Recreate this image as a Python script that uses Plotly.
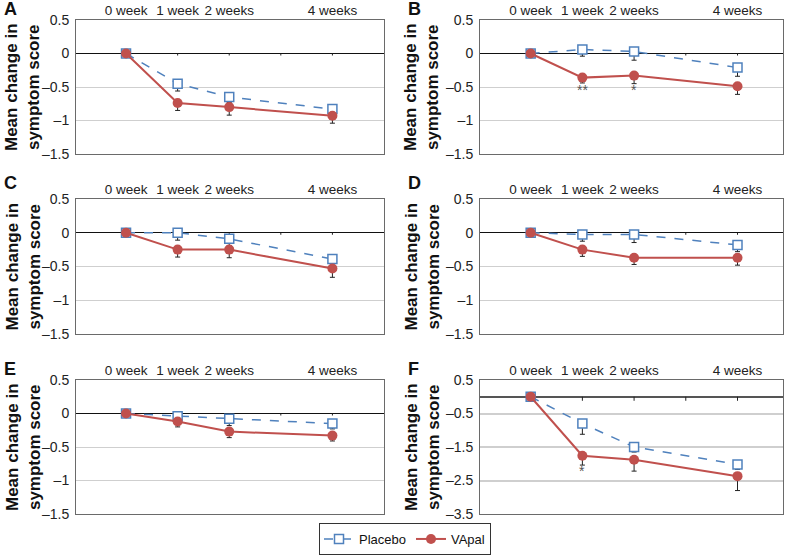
import plotly.graph_objects as go

weeks = [0, 1, 2, 4]
week_labels = ["0 week", "1 week", "2 weeks", "4 weeks"]
tick_weeks = [0, 1, 2, 3, 4]

panel_letters = ["A", "B", "C", "D", "E", "F"]

placebo_A = [0, -0.45, -0.65, -0.83]
placebo_A_err = [0, 0.11, 0.08, 0.10]
vapal_A = [0, -0.74, -0.80, -0.93]
vapal_A_err = [0, 0.11, 0.12, 0.11]

placebo_B = [0, 0.06, 0.03, -0.21]
placebo_B_err = [0, 0.10, 0.13, 0.13]
vapal_B = [0, -0.36, -0.33, -0.49]
vapal_B_err = [0, 0.08, 0.12, 0.12]

placebo_C = [0, 0.0, -0.09, -0.39]
placebo_C_err = [0, 0.11, 0.10, 0.10]
vapal_C = [0, -0.25, -0.25, -0.53]
vapal_C_err = [0, 0.11, 0.12, 0.13]

placebo_D = [0, -0.025, -0.025, -0.18]
placebo_D_err = [0, 0.10, 0.12, 0.10]
vapal_D = [0, -0.25, -0.37, -0.37]
vapal_D_err = [0, 0.10, 0.10, 0.11]

placebo_E = [0, -0.04, -0.08, -0.15]
placebo_E_err = [0, 0.05, 0.10, 0.08]
vapal_E = [0, -0.12, -0.27, -0.33]
vapal_E_err = [0, 0.08, 0.09, 0.08]

placebo_F = [0, -0.80, -1.50, -2.02]
placebo_F_err = [0, 0.32, 0.15, 0.15]
vapal_F = [0, -1.76, -1.88, -2.37]
vapal_F_err = [0, 0.28, 0.34, 0.43]

yticks_std = [0.5, 0, -0.5, -1, -1.5]
yticklabels_std = ["0.5", "0", "\u20130.5", "\u20131", "\u20131.5"]
yticks_F = [0.5, -0.5, -1.5, -2.5, -3.5]
yticklabels_F = ["0.5", "\u20130.5", "\u20131.5", "\u20132.5", "\u20133.5"]

# significance marks: (panel index, week, y, text)
sig_marks = [(1, 1, -0.55, "**"), (1, 2, -0.55, "*"), (5, 1, -2.22, "*")]

placebo_all = [placebo_A, placebo_B, placebo_C, placebo_D, placebo_E, placebo_F]
placebo_err_all = [placebo_A_err, placebo_B_err, placebo_C_err, placebo_D_err, placebo_E_err, placebo_F_err]
vapal_all = [vapal_A, vapal_B, vapal_C, vapal_D, vapal_E, vapal_F]
vapal_err_all = [vapal_A_err, vapal_B_err, vapal_C_err, vapal_D_err, vapal_E_err, vapal_F_err]

W, H = 788, 555
FONT = "Liberation Sans, Arial, sans-serif"
BLUE = "#4F81BD"
RED = "#C0504D"

col_x = [(76, 384), (480, 783)]
col_xrange = [[-0.97, 5.0], [-0.98, 4.88]]
row_y = [(20, 154), (199, 334), (380, 514)]

fig = go.Figure()
layout = dict(
    width=W, height=H, margin=dict(l=0, r=0, t=0, b=0, autoexpand=False),
    paper_bgcolor="white", plot_bgcolor="white",
    font=dict(family=FONT, color="#222", size=13),
    showlegend=True,
)
annotations = []

for i in range(6):
    r, c = divmod(i, 2)
    sfx = "" if i == 0 else str(i + 1)
    xa, ya = "x" + sfx, "y" + sfx
    x0, x1 = col_x[c]
    yt, yb = row_y[r]
    isF = (i == 5)
    yr = [-3.5, 0.5] if isF else [-1.5, 0.5]
    tick_len = 0.12 if isF else 0.03

    # zero-line tick marks
    fig.add_trace(go.Scatter(
        x=tick_weeks, y=[0] * len(tick_weeks), mode="markers",
        marker=dict(size=1, color="rgba(0,0,0,0)"),
        error_y=dict(type="data", symmetric=False, array=[0] * len(tick_weeks),
                     arrayminus=[tick_len] * len(tick_weeks), width=0,
                     thickness=1, color="#222"),
        xaxis=xa, yaxis=ya, showlegend=False, hoverinfo="skip"))

    fig.add_trace(go.Scatter(
        x=weeks, y=placebo_all[i], mode="lines+markers", name="Placebo",
        line=dict(color=BLUE, width=1.5, dash="dash"),
        marker=dict(symbol="square", size=9, color="white",
                    line=dict(color=BLUE, width=1.5)),
        error_y=dict(type="data", symmetric=False, array=[0, 0, 0, 0],
                     arrayminus=placebo_err_all[i], width=2.5, thickness=1,
                     color="#222"),
        xaxis=xa, yaxis=ya, showlegend=(i == 0), legendgroup="p"))
    fig.add_trace(go.Scatter(
        x=weeks, y=vapal_all[i], mode="lines+markers", name="VApal",
        line=dict(color=RED, width=2),
        marker=dict(symbol="circle", size=10, color=RED),
        error_y=dict(type="data", symmetric=False, array=[0, 0, 0, 0],
                     arrayminus=vapal_err_all[i], width=2.5, thickness=1,
                     color="#222"),
        xaxis=xa, yaxis=ya, showlegend=(i == 0), legendgroup="v"))

    layout["xaxis" + sfx] = dict(
        domain=[x0 / W, x1 / W], range=col_xrange[c], anchor=ya, side="top",
        tickmode="array", tickvals=weeks, ticktext=week_labels,
        ticks="", ticklen=0, ticklabelstandoff=-1,
        tickfont=dict(size=13.5, color="#222", family=FONT),
        showgrid=False, zeroline=False, showline=True, mirror=True,
        linecolor="#6a6a6a", linewidth=1, fixedrange=True, automargin=False)
    layout["yaxis" + sfx] = dict(
        domain=[1 - yb / H, 1 - yt / H], range=yr, anchor=xa,
        tickmode="array",
        tickvals=yticks_F if isF else yticks_std,
        ticktext=yticklabels_F if isF else yticklabels_std,
        ticks="outside", ticklen=3, tickcolor="rgba(0,0,0,0)",
        tickfont=dict(size=14, color="#222", family=FONT),
        showgrid=True, gridcolor="#cfcfcf", gridwidth=2 if isF else 1,
        zeroline=True, zerolinecolor="#555" if isF else "#111",
        zerolinewidth=2 if isF else 1,
        showline=True, mirror=True, linecolor="#6a6a6a", linewidth=1,
        fixedrange=True, automargin=False)

    # y axis title
    tx = 23 if c == 0 else 422
    annotations.append(dict(
        x=tx / W, y=1 - ((yt + yb) / 2) / H, xref="paper", yref="paper",
        text="<b>Mean change in<br>symptom score</b>", textangle=-90,
        showarrow=False, xanchor="center", yanchor="middle",
        font=dict(size=17, color="#111", family=FONT)))
    # panel letter
    lx = 2 if c == 0 else 406
    ly = [9, 183, 369][r]
    annotations.append(dict(
        x=lx / W, y=1 - ly / H, xref="paper", yref="paper",
        text="<b>" + panel_letters[i] + "</b>", showarrow=False,
        xanchor="left", yanchor="middle",
        font=dict(size=18, color="#111", family=FONT)))

for (pi, wk, yv, txt) in sig_marks:
    sfx = "" if pi == 0 else str(pi + 1)
    annotations.append(dict(
        x=wk, y=yv, xref="x" + sfx, yref="y" + sfx, text=txt,
        showarrow=False, xanchor="center", yanchor="middle",
        font=dict(size=14, color="#555", family=FONT)))

layout["annotations"] = annotations
layout["legend"] = dict(
    orientation="h", x=405 / W, xanchor="center", y=1 - 539 / H,
    yanchor="middle", bordercolor="#333", borderwidth=1,
    font=dict(size=13, color="#111", family=FONT), bgcolor="white",
    itemwidth=30, tracegroupgap=0)

fig.update_layout(**layout)
fig.write_html(
    "out.html",
    config={"displayModeBar": False},
    post_script="document.body.style.margin='0';document.body.style.overflow='hidden';",
)
